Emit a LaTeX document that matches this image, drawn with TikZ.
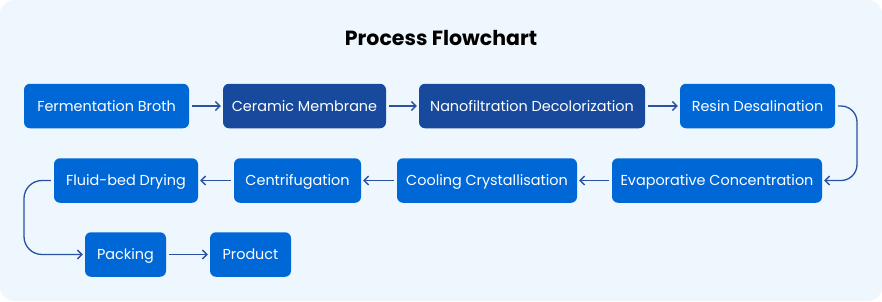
\documentclass[tikz,border=0pt]{standalone}
\usepackage{fontspec}
\setmainfont{Poppins}
\usepackage{xcolor}
\usetikzlibrary{arrows.meta, positioning}

\definecolor{bgblue}{HTML}{EEF7FE}
\definecolor{steplight}{HTML}{0067D6}
\definecolor{stepdark}{HTML}{174A9C}
\definecolor{flowline}{HTML}{2A52A0}

\begin{document}
\begin{tikzpicture}[x=1pt, y=-1pt,
        stepbox/.style={rectangle, rounded corners=6pt, fill=steplight, text=white,
            minimum height=44.5pt, inner sep=0pt, text height=10.3pt, text depth=0pt,
            font=\fontsize{14.4}{17}\selectfont},
        darkbox/.style={stepbox, fill=stepdark},
        flow/.style={draw=flowline, line width=1.3pt,
            -{Straight Barb[length=4.5pt, width=9pt]}, shorten <=3pt, shorten >=2pt}
        ]

        %% Background panel
        \useasboundingbox (0,0) rectangle (882,301);
        \fill[bgblue, rounded corners=14pt] (0,0) rectangle (882,301);

        %% Title
        \node[font=\fontsize{20.5}{24}\selectfont\bfseries] (title) at (441,38) {Process Flowchart};

        %% Row 1
        \node[stepbox, minimum width=165pt] (broth)  at (106.5,106) {Fermentation Broth};
        \node[darkbox, minimum width=163pt] (cermem) at (304.5,106) {Ceramic Membrane};
        \node[darkbox, minimum width=226pt] (nanof)  at (532,106)   {Nanofiltration Decolorization};
        \node[stepbox, minimum width=155pt] (resin)  at (757.5,106) {Resin Desalination};

        %% Row 2 (right to left)
        \node[stepbox, minimum width=210pt] (evapc)  at (717,180.5) {Evaporative Concentration};
        \node[stepbox, minimum width=180pt] (coolc)  at (487,180.5) {Cooling Crystallisation};
        \node[stepbox, minimum width=127pt] (centr)  at (297.5,180.5) {Centrifugation};
        \node[stepbox, minimum width=144pt] (fbdry)  at (126,180.5) {Fluid-bed Drying};

        %% Row 3
        \node[stepbox, minimum width=81pt] (packg)  at (125.5,254.5) {Packing};
        \node[stepbox, minimum width=81pt] (prodt)  at (250.5,254.5) {Product};

        %% Turning points
        \coordinate (turnR) at (857,106);
        \coordinate (turnL) at (24,180.5);

        %% Connectors
        \draw[flow] (broth) -- (cermem);
        \draw[flow] (cermem) -- (nanof);
        \draw[flow] (nanof) -- (resin);
        \draw[flow, rounded corners=16pt] (resin.east) -- (turnR) |- (evapc.east);
        \draw[flow] (evapc) -- (coolc);
        \draw[flow] (coolc) -- (centr);
        \draw[flow] (centr) -- (fbdry);
        \draw[flow, rounded corners=18pt] (fbdry.west) -- (turnL) |- (packg.west);
        \draw[flow] (packg) -- (prodt);

    \end{tikzpicture}
\end{document}
